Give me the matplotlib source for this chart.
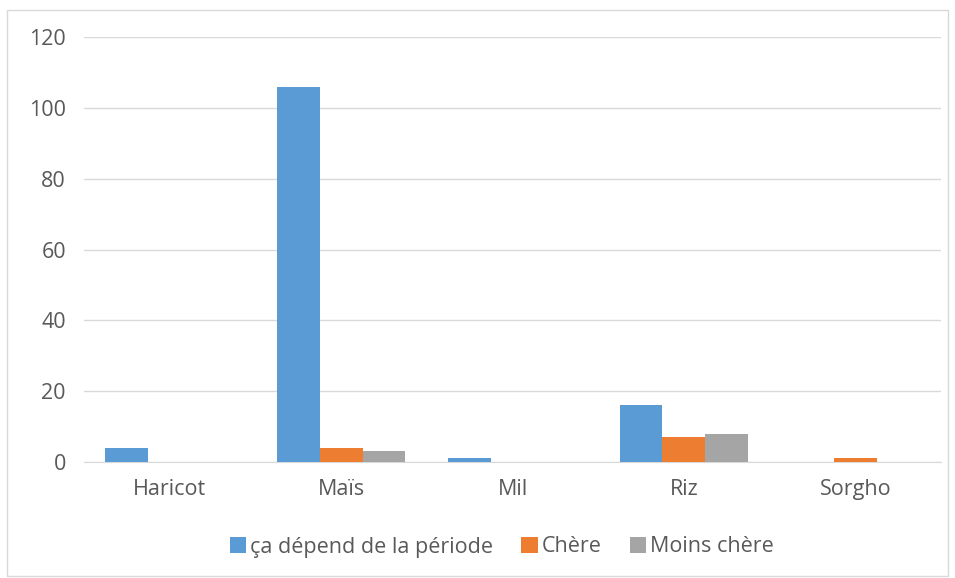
import matplotlib
matplotlib.use("Agg")
import matplotlib.pyplot as plt
import matplotlib.patches as mpatches
import numpy as np

# data
categories = ["Haricot", "Maïs", "Mil", "Riz", "Sorgho"]
series_names = ["ça dépend de la période", "Chère", "Moins chère"]
depend = [4, 106, 1, 16, 0]
chere = [0, 4, 0, 7, 1]
moins_chere = [0, 3, 0, 8, 0]
y_ticks = [0, 20, 40, 60, 80, 100, 120]

colours = ["#5B9BD5", "#ED7D31", "#A5A5A5"]
text_col = "#595959"

plt.rcParams["font.family"] = ["Open Sans", "DejaVu Sans"]

fig = plt.figure(figsize=(9.55, 5.78), dpi=100)
ax = fig.add_axes([84 / 955, 1 - 462 / 578, (941 - 84) / 955, (462 - 37) / 578])

# light border around the chart area
fig.patches.append(mpatches.Rectangle((7 / 955, 1 - 576 / 578), 941 / 955, 566 / 578,
                                      transform=fig.transFigure, fill=False,
                                      edgecolor="#D9D9D9", linewidth=1))

x = np.arange(len(categories))
w = 0.25
for i, (vals, name) in enumerate(zip([depend, chere, moins_chere], series_names)):
    ax.bar(x + (i - 1) * w, vals, width=w, color=colours[i], label=name, zorder=3)

ax.set_xlim(-0.5, len(categories) - 0.5)
ax.set_ylim(0, 120)
ax.set_yticks(y_ticks)
ax.set_xticks(x)
ax.set_xticklabels(categories)
ax.tick_params(axis="both", length=0, labelsize=15.5, colors=text_col)
ax.tick_params(axis="x", pad=12)
ax.tick_params(axis="y", pad=13)
ax.grid(axis="y", color="#D9D9D9", linewidth=1, zorder=0)
for s in ["top", "right", "left"]:
    ax.spines[s].set_visible(False)
ax.spines["bottom"].set_color("#D9D9D9")

leg = ax.legend(loc="center", bbox_to_anchor=(502 / 955, 1 - 547 / 578),
                bbox_transform=fig.transFigure, ncol=3, frameon=False,
                fontsize=15.5, handlelength=0.75, handleheight=0.75,
                handletextpad=0.2, columnspacing=1.3)
for t in leg.get_texts():
    t.set_color(text_col)

fig.savefig("out.png", dpi=100)
